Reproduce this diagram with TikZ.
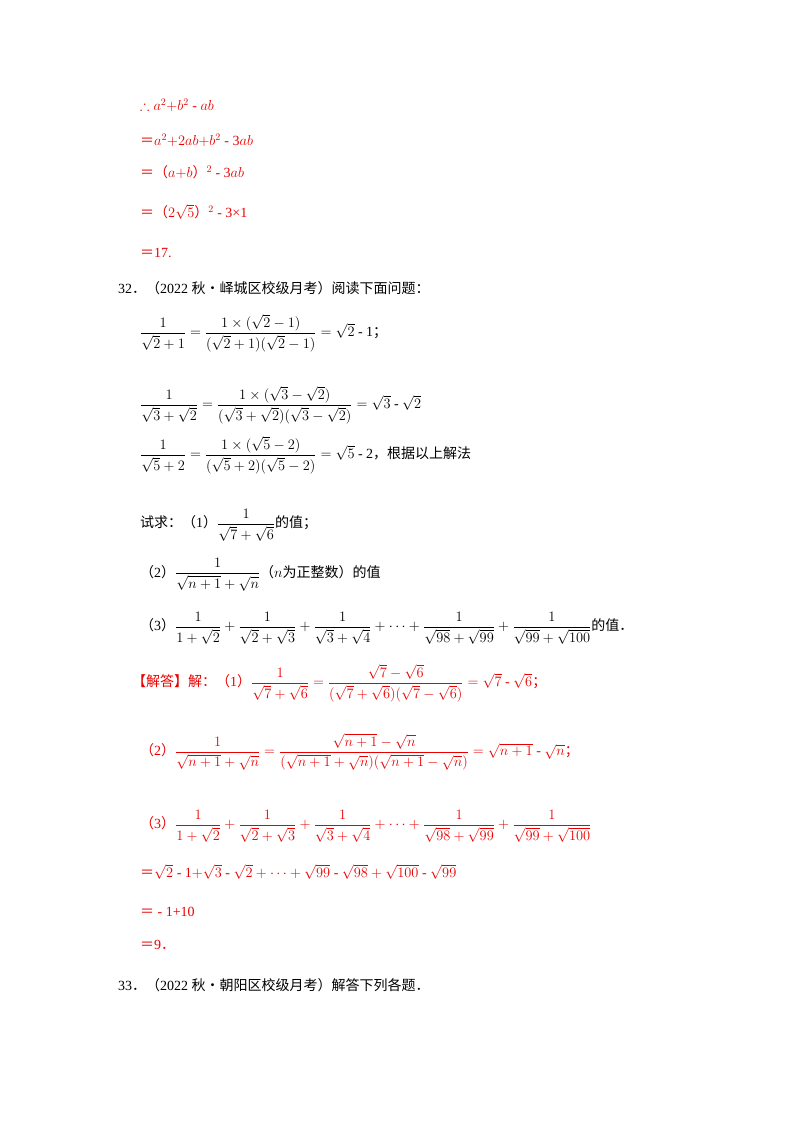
\documentclass[tikz,border=0pt]{standalone}
\usepackage{amsmath,amssymb}
\usepackage{fontspec}
\setmainfont{Liberation Serif}
\newfontfamily\cjk{Noto Sans CJK SC}
\definecolor{ansred}{RGB}{235,0,0}
\newcommand{\zh}[1]{{\cjk #1}}
\begin{document}
\begin{tikzpicture}[x=1pt,y=-1pt,
  ln/.style={anchor=west,inner sep=0pt,font=\fontsize{14}{16}\selectfont},
  rd/.style={ln,text=ansred}]
\useasboundingbox[fill=white] (0,0) rectangle (800,1132);
\node[rd] (l1) at (140,105) {$\therefore a^2{+}b^2$ - $ab$};
\node[rd] (l2) at (140,140) {\zh{＝}$a^2{+}2ab{+}b^2$ - 3$ab$};
\node[rd] (l3) at (140,172) {\zh{＝（}$a{+}b$\zh{）}$^2$ - 3$ab$};
\node[rd] (l4) at (140,212) {\zh{＝（}$2\sqrt5$\zh{）}$^2$ - 3×1};
\node[rd] (l5) at (140,253) {\zh{＝}17.};
\node[ln] (q32) at (118,288) {32\zh{．（}2022 \zh{秋•峄城区校级月考）阅读下面问题：}};
\node[ln] (e1) at (140,333) {$\dfrac{1}{\sqrt2+1}=\dfrac{1\times(\sqrt2-1)}{(\sqrt2+1)(\sqrt2-1)}=\sqrt2$ - 1\zh{；}};
\node[ln] (e2) at (140,405) {$\dfrac{1}{\sqrt3+\sqrt2}=\dfrac{1\times(\sqrt3-\sqrt2)}{(\sqrt3+\sqrt2)(\sqrt3-\sqrt2)}=\sqrt3$ - $\sqrt2$};
\node[ln] (e3) at (140,455) {$\dfrac{1}{\sqrt5+2}=\dfrac{1\times(\sqrt5-2)}{(\sqrt5+2)(\sqrt5-2)}=\sqrt5$ - 2\zh{，根据以上解法}};
\node[ln] (t1) at (140,525) {\zh{试求：（}1\zh{）}$\dfrac{1}{\sqrt7+\sqrt6}$\zh{的值；}};
\node[ln] (t2) at (140,575) {\zh{（}2\zh{）}$\dfrac{1}{\sqrt{n+1}+\sqrt n}$\zh{（}$n$\zh{为正整数）的值}};
\node[ln] (t3) at (140,628) {\zh{（}3\zh{）}$\dfrac{1}{1+\sqrt2}+\dfrac{1}{\sqrt2+\sqrt3}+\dfrac{1}{\sqrt3+\sqrt4}+\cdots+\dfrac{1}{\sqrt{98}+\sqrt{99}}+\dfrac{1}{\sqrt{99}+\sqrt{100}}$\zh{的值．}};
\node[rd] (a1) at (132,683) {\zh{【解答】解：（}1\zh{）}$\dfrac{1}{\sqrt7+\sqrt6}=\dfrac{\sqrt7-\sqrt6}{(\sqrt7+\sqrt6)(\sqrt7-\sqrt6)}=\sqrt7$ - $\sqrt6$\zh{；}};
\node[rd] (a2) at (140,752) {\zh{（}2\zh{）}$\dfrac{1}{\sqrt{n+1}+\sqrt n}=\dfrac{\sqrt{n+1}-\sqrt n}{(\sqrt{n+1}+\sqrt n)(\sqrt{n+1}-\sqrt n)}=\sqrt{n+1}$ - $\sqrt n$\zh{；}};
\node[rd] (a3) at (140,826) {\zh{（}3\zh{）}$\dfrac{1}{1+\sqrt2}+\dfrac{1}{\sqrt2+\sqrt3}+\dfrac{1}{\sqrt3+\sqrt4}+\cdots+\dfrac{1}{\sqrt{98}+\sqrt{99}}+\dfrac{1}{\sqrt{99}+\sqrt{100}}$};
\node[rd] (a4) at (140,872) {\zh{＝}$\sqrt2$ - 1$+\sqrt3$ - $\sqrt2+\cdots+\sqrt{99}$ - $\sqrt{98}+\sqrt{100}$ - $\sqrt{99}$};
\node[rd] (a5) at (140,912) {\zh{＝} - 1+10};
\node[rd] (a6) at (140,945) {\zh{＝}9\zh{．}};
\node[ln] (q33) at (118,985) {33\zh{．（}2022 \zh{秋•朝阳区校级月考）解答下列各题．}};
\end{tikzpicture}
\end{document}
